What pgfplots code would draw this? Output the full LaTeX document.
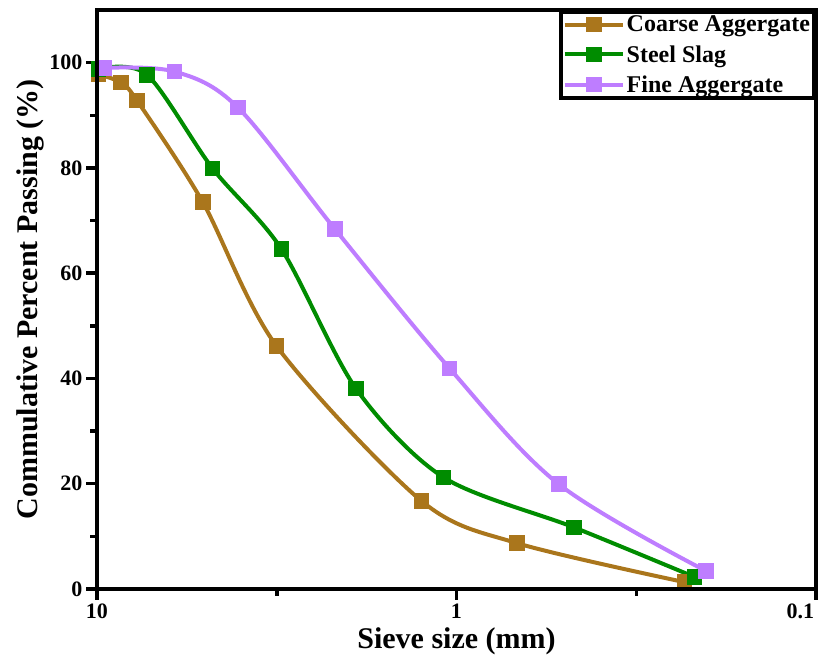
\documentclass[border=0pt]{standalone}
\usepackage{pgfplots}
\pgfplotsset{compat=1.18}
\usepackage{fontspec}
\setmainfont{Liberation Serif}
\definecolor{coarse}{RGB}{170,118,28}
\definecolor{steel}{RGB}{0,140,0}
\definecolor{fine}{RGB}{190,125,255}
\begin{document}
\begin{tikzpicture}
\begin{axis}[
  name=ax,
  scale only axis,
  width=719pt, height=579pt,
  xmode=log, x dir=reverse,
  xmin=0.1, xmax=10,
  ymin=0, ymax=110,
  xtick={10,1,0.1}, xticklabels={10,1,{\makebox[0pt][r]{0.1\hspace{2pt}}}},
  minor xtick={3.1623,0.31623},
  ytick={0,20,40,60,80,100},
  minor ytick={10,30,50,70,90},
  xtick pos=bottom, ytick pos=left,
  tick align=outside,
  major tick length=11pt, minor tick length=7pt,
  tick style={black, line width=3.5pt},
  major tick style={black, line width=3.5pt},
  minor tick style={black, line width=3.5pt},
  /pgf/number format/assume math mode=true,
  ticklabel style={font=\bfseries\fontsize{22}{24}\selectfont},
  xlabel={Sieve size (mm)},
  ylabel={Commulative Percent Passing (\%)},
  label style={font=\bfseries\fontsize{30}{32}\selectfont},
  xlabel style={yshift=-2pt},
  ylabel style={yshift=-2pt},
  legend style={at={(1,1)}, anchor=north east, draw=black, line width=4pt,
    font=\bfseries\fontsize{24}{26}\selectfont, inner sep=2pt, row sep=8pt},
  legend cell align=left,
  legend image code/.code={\draw[mark repeat=2,mark phase=2,#1] plot coordinates {(0pt,0pt) (29pt,0pt) (58pt,0pt)};},
  every axis plot/.append style={line width=4pt, mark=square*, mark size=5.8pt, mark options={solid}},
]
\addplot[coarse, smooth, tension=0.5] coordinates {
 (9.9,97.8) (8.58,96.2) (7.74,92.8) (5.08,73.5) (3.17,46.2) (1.25,16.7) (0.678,8.7) (0.232,1.3)};
\addlegendentry{Coarse Aggergate}
\addplot[steel, smooth, tension=0.5] coordinates {
 (9.9,98.8) (7.26,97.7) (4.77,79.9) (3.07,64.6) (1.905,38.1) (1.086,21.2) (0.471,11.7) (0.218,2.3)};
\addlegendentry{Steel Slag}
\addplot[fine, smooth, tension=0.55] coordinates {
 (9.56,99.0) (6.08,98.3) (4.06,91.5) (2.18,68.4) (1.045,41.9) (0.519,19.9) (0.202,3.4)};
\addlegendentry{Fine Aggergate}
\end{axis}
\draw[line width=4pt] (ax.south west) rectangle (ax.north east);
\pgfresetboundingbox
\useasboundingbox ([shift={(-97pt,-78pt)}]ax.south west) rectangle ([shift={(2pt,10pt)}]ax.north east);
\end{tikzpicture}
\end{document}
